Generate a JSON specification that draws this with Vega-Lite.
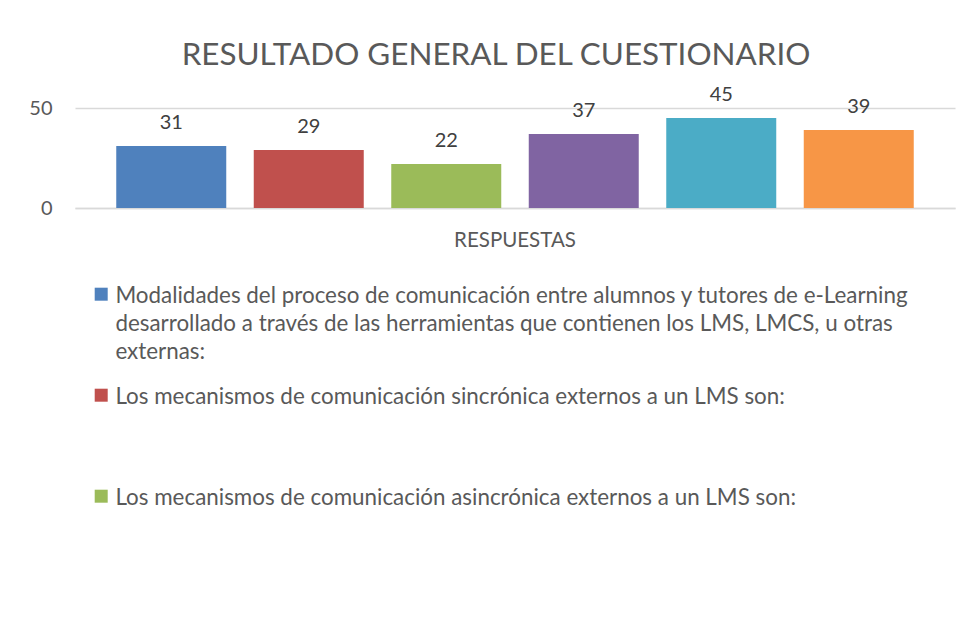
{
  "$schema": "https://vega.github.io/schema/vega-lite/v6.json",
  "width": 880,
  "height": 100,
  "autosize": {"type": "none"},
  "padding": {"left": 75, "top": 108, "right": 16, "bottom": 422},
  "background": "white",
  "title": {
    "text": "RESULTADO GENERAL DEL CUESTIONARIO",
    "font": "Lato",
    "fontSize": 31.4,
    "fontWeight": "normal",
    "color": "#595959",
    "anchor": "middle",
    "dx": -19,
    "offset": 13
  },
  "data": {
    "values": [
      {"categoria": "RESPUESTAS", "serie": "Modalidades del proceso de comunicación entre alumnos y tutores de e-Learning\ndesarrollado a través de las herramientas que contienen los LMS, LMCS, u otras\nexternas:", "valor": 31},
      {"categoria": "RESPUESTAS", "serie": "Los mecanismos de comunicación sincrónica externos a un LMS son:", "valor": 29},
      {"categoria": "RESPUESTAS", "serie": "Los mecanismos de comunicación asincrónica externos a un LMS son:", "valor": 22},
      {"categoria": "RESPUESTAS", "serie": "Pregunta 4", "valor": 37},
      {"categoria": "RESPUESTAS", "serie": "Pregunta 5", "valor": 45},
      {"categoria": "RESPUESTAS", "serie": "Pregunta 6", "valor": 39}
    ]
  },
  "encoding": {
    "x": {
      "field": "categoria",
      "type": "nominal",
      "scale": {"paddingInner": 0, "paddingOuter": 0},
      "axis": {
        "title": null,
        "labelAngle": 0,
        "ticks": false,
        "domainColor": "#d9d9d9",
        "domainWidth": 1.3,
        "labelFont": "Lato",
        "labelFontSize": 20.5,
        "labelColor": "#595959",
        "labelPadding": 22
      }
    },
    "xOffset": {
      "field": "serie",
      "type": "nominal",
      "sort": null,
      "scale": {"paddingInner": 0.2, "paddingOuter": 0.3}
    },
    "y": {
      "field": "valor",
      "type": "quantitative",
      "scale": {"domain": [0, 50]},
      "axis": {
        "title": null,
        "values": [0, 50],
        "domain": false,
        "ticks": false,
        "grid": true,
        "gridColor": "#d9d9d9",
        "gridWidth": 1.3,
        "labelFont": "Lato",
        "labelFontSize": 20,
        "labelColor": "#595959",
        "labelPadding": 23
      }
    }
  },
  "layer": [
    {
      "mark": {"type": "bar"},
      "encoding": {
        "color": {
          "field": "serie",
          "type": "nominal",
          "sort": null,
          "scale": {"range": ["#4F81BD", "#C0504D", "#9BBB59", "#8064A2", "#4BACC6", "#F79646"]},
          "legend": {
            "title": null,
            "orient": "none",
            "legendX": 15,
            "legendY": 175,
            "direction": "vertical",
            "values": [
              "Modalidades del proceso de comunicación entre alumnos y tutores de e-Learning\ndesarrollado a través de las herramientas que contienen los LMS, LMCS, u otras\nexternas:",
              "Los mecanismos de comunicación sincrónica externos a un LMS son:",
              "Los mecanismos de comunicación asincrónica externos a un LMS son:"
            ],
            "symbolType": "square",
            "symbolSize": 169,
            "symbolStrokeWidth": 0,
            "labelFont": "Lato",
            "labelFontSize": 22.4,
            "labelColor": "#595959",
            "labelOffset": 3,
            "labelLimit": 1000,
            "labelBaseline": "top",
            "rowPadding": 20,
            "gridAlign": "all",
            "labelExpr": "split(datum.label, '\\n')",
            "encoding": {"labels": {"dy": {"value": -9}}}
          }
        }
      }
    },
    {
      "mark": {"type": "text", "baseline": "alphabetic", "dy": -17.5, "font": "Lato", "fontSize": 20, "color": "#404040"},
      "encoding": {"text": {"field": "valor", "type": "quantitative"}}
    }
  ],
  "config": {
    "view": {"stroke": null},
    "style": {"guide-label": {"lineHeight": 28}}
  }
}
